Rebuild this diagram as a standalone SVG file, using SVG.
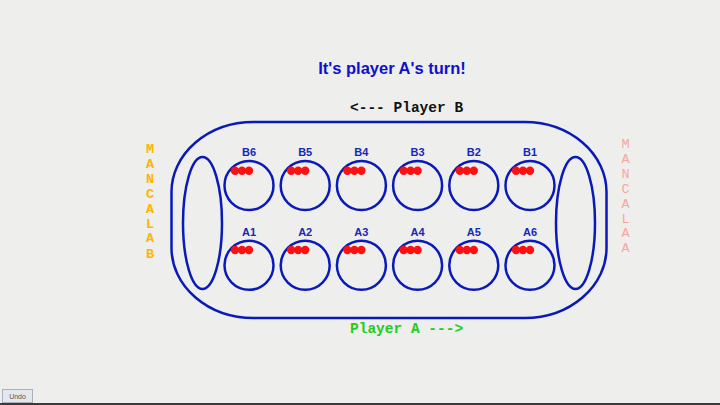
<svg xmlns="http://www.w3.org/2000/svg" width="720" height="405" viewBox="0 0 720 405">
<style>
.ln{fill:none;stroke:#0a1ab8;stroke-width:2.5}
.pit{fill:none;stroke:#0a1ab8;stroke-width:2.5}
.lbl{font-family:"Liberation Sans",Arial,sans-serif;font-weight:bold;font-size:11px;fill:#1428b8;text-anchor:middle}
.seed{fill:#ff1010}
.mono{font-family:"Liberation Mono","Courier New",monospace;font-weight:bold;font-size:14.5px}
.vl{font-family:"Liberation Mono","Courier New",monospace;font-size:13.5px;text-anchor:middle}
</style>
<defs>
<g id="seeds"><circle class="seed" cx="-14" cy="0" r="4.2"/><circle class="seed" cx="-7" cy="0" r="4.2"/><circle class="seed" cx="0" cy="0" r="4.2"/></g>
</defs>
<rect width="720" height="405" fill="#eeeeec"/>
<rect x="0" y="403" width="720" height="2" fill="#3a3a3a"/>
<text x="392" y="74" text-anchor="middle" font-family="'Liberation Sans',Arial,sans-serif" font-weight="bold" font-size="16.5" fill="#1010cc">It's player A's turn!</text>
<text class="mono" x="350" y="112" fill="#111111">&lt;--- Player B</text>
<text class="mono" x="350" y="333" fill="#22cc22">Player A ---&gt;</text>
<g id="board">
<rect class="ln" x="171.5" y="122" width="435" height="196" rx="82" ry="70"/>
</g>
<g id="mancalaB">
<ellipse class="pit" cx="202.5" cy="223" rx="19.5" ry="66"/>
<text class="vl" fill="#ffb400" font-weight="bold"><tspan x="150" y="153">M</tspan><tspan x="150" y="167.9">A</tspan><tspan x="150" y="182.8">N</tspan><tspan x="150" y="197.7">C</tspan><tspan x="150" y="212.6">A</tspan><tspan x="150" y="227.5">L</tspan><tspan x="150" y="242.4">A</tspan><tspan x="150" y="258">B</tspan></text>
</g>
<g id="mancalaA">
<ellipse class="pit" cx="575.5" cy="223" rx="19.5" ry="66"/>
<text class="vl" fill="#f5a8a2"><tspan x="625.5" y="148">M</tspan><tspan x="625.5" y="162.9">A</tspan><tspan x="625.5" y="177.8">N</tspan><tspan x="625.5" y="192.7">C</tspan><tspan x="625.5" y="207.6">A</tspan><tspan x="625.5" y="222.5">L</tspan><tspan x="625.5" y="237.4">A</tspan><tspan x="625.5" y="252.3">A</tspan></text>
</g>
<g id="B6"><text class="lbl" x="249" y="156">B6</text><circle class="pit" cx="249" cy="185.5" r="24.5"/><use href="#seeds" x="249" y="170.7"/></g>
<g id="B5"><text class="lbl" x="305.2" y="156">B5</text><circle class="pit" cx="305.2" cy="185.5" r="24.5"/><use href="#seeds" x="305.2" y="170.7"/></g>
<g id="B4"><text class="lbl" x="361.4" y="156">B4</text><circle class="pit" cx="361.4" cy="185.5" r="24.5"/><use href="#seeds" x="361.4" y="170.7"/></g>
<g id="B3"><text class="lbl" x="417.6" y="156">B3</text><circle class="pit" cx="417.6" cy="185.5" r="24.5"/><use href="#seeds" x="417.6" y="170.7"/></g>
<g id="B2"><text class="lbl" x="473.8" y="156">B2</text><circle class="pit" cx="473.8" cy="185.5" r="24.5"/><use href="#seeds" x="473.8" y="170.7"/></g>
<g id="B1"><text class="lbl" x="530" y="156">B1</text><circle class="pit" cx="530" cy="185.5" r="24.5"/><use href="#seeds" x="530" y="170.7"/></g>
<g id="A1"><text class="lbl" x="249" y="235.5">A1</text><circle class="pit" cx="249" cy="265.3" r="24.5"/><use href="#seeds" x="249" y="250"/></g>
<g id="A2"><text class="lbl" x="305.2" y="235.5">A2</text><circle class="pit" cx="305.2" cy="265.3" r="24.5"/><use href="#seeds" x="305.2" y="250"/></g>
<g id="A3"><text class="lbl" x="361.4" y="235.5">A3</text><circle class="pit" cx="361.4" cy="265.3" r="24.5"/><use href="#seeds" x="361.4" y="250"/></g>
<g id="A4"><text class="lbl" x="417.6" y="235.5">A4</text><circle class="pit" cx="417.6" cy="265.3" r="24.5"/><use href="#seeds" x="417.6" y="250"/></g>
<g id="A5"><text class="lbl" x="473.8" y="235.5">A5</text><circle class="pit" cx="473.8" cy="265.3" r="24.5"/><use href="#seeds" x="473.8" y="250"/></g>
<g id="A6"><text class="lbl" x="530" y="235.5">A6</text><circle class="pit" cx="530" cy="265.3" r="24.5"/><use href="#seeds" x="530" y="250"/></g>
<g id="undo">
<rect x="2.5" y="389.5" width="30" height="13" fill="#e4e8ee" stroke="#a8b0bc" stroke-width="1"/>
<text x="17.5" y="399" text-anchor="middle" font-family="'Liberation Sans',Arial,sans-serif" font-size="7" fill="#555555">Undo</text>
</g>
<g id="connectors"/>
</svg>
